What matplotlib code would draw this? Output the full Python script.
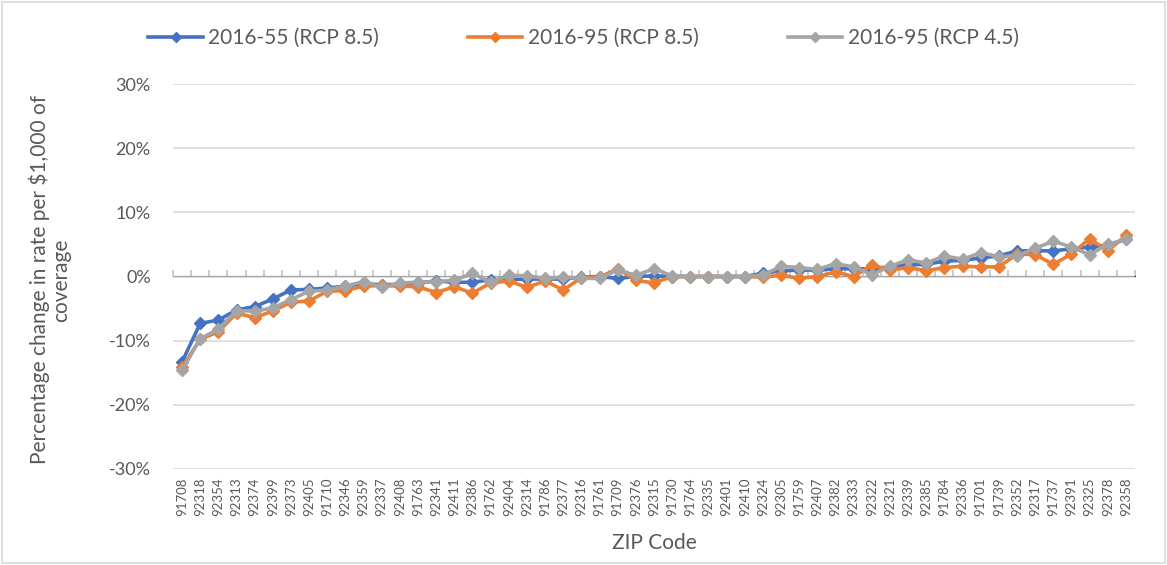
import matplotlib
matplotlib.use("Agg")
import matplotlib.pyplot as plt
from matplotlib.patches import Rectangle
from matplotlib.ticker import FuncFormatter

zip_codes = ["91708", "92318", "92354", "92313", "92374", "92399", "92373", "92405", "91710", "92346",
             "92359", "92337", "92408", "91763", "92341", "92411", "92386", "91762", "92404", "92314",
             "91786", "92377", "92316", "91761", "91709", "92376", "92315", "91730", "91764", "92335",
             "92401", "92410", "92324", "92305", "91759", "92407", "92382", "92333", "92322", "92321",
             "92339", "92385", "91784", "92336", "91701", "91739", "92352", "92317", "91737", "92391",
             "92325", "92378", "92358"]

s_2016_55_rcp85 = [-13.3, -7.3, -6.8, -5.2, -4.7, -3.5, -2.1, -2.0, -1.8, -1.5,
                   -1.1, -1.3, -1.2, -1.0, -0.7, -0.9, -0.9, -0.5, -0.5, -0.4,
                   -0.4, -0.4, -0.1, 0.0, -0.3, 0.0, 0.1, 0.0, 0.0, 0.0,
                   0.0, 0.0, 0.5, 0.9, 1.0, 1.0, 1.2, 1.2, 1.2, 1.5,
                   1.8, 1.9, 2.4, 2.5, 2.9, 3.2, 4.0, 4.0, 4.0, 4.3,
                   4.6, 4.9, 5.8]

s_2016_95_rcp85 = [-14.1, -9.8, -8.6, -5.7, -6.4, -5.4, -4.0, -3.8, -2.3, -2.2,
                   -1.5, -1.4, -1.5, -1.6, -2.5, -1.6, -2.6, -1.0, -0.7, -1.7,
                   -0.7, -2.1, -0.2, -0.1, 1.2, -0.6, -1.0, 0.0, 0.0, 0.0,
                   0.0, 0.0, -0.1, 0.2, -0.3, 0.0, 0.7, 0.0, 1.8, 1.0,
                   1.4, 0.9, 1.4, 1.6, 1.5, 1.5, 3.5, 3.4, 1.9, 3.5,
                   5.9, 4.0, 6.4]

s_2016_95_rcp45 = [-14.6, -9.7, -8.2, -5.3, -5.4, -4.9, -3.6, -2.3, -2.1, -1.5,
                   -0.8, -1.7, -1.0, -0.9, -0.8, -0.6, 0.5, -0.9, 0.2, 0.1,
                   -0.3, -0.1, -0.3, -0.3, 1.0, 0.2, 1.2, 0.1, 0.0, 0.0,
                   0.0, 0.0, 0.2, 1.6, 1.4, 1.1, 2.0, 1.5, 0.3, 1.6,
                   2.6, 2.1, 3.2, 2.7, 3.7, 3.1, 3.2, 4.4, 5.5, 4.6,
                   3.4, 5.0, 5.8]

series_names = ["2016-55 (RCP 8.5)", "2016-95 (RCP 8.5)", "2016-95 (RCP 4.5)"]
colors = ["#4472C4", "#ED7D31", "#A5A5A5"]
y_ticks = [-30, -20, -10, 0, 10, 20, 30]

plt.rcParams['font.family'] = ['Lato', 'DejaVu Sans']
text_color = "#595959"
grid_color = "#D9D9D9"

fig = plt.figure(figsize=(11.67, 5.65), dpi=100)
ax = fig.add_axes([173 / 1167, 1 - 469 / 565, (1135 - 173) / 1167, (469 - 84) / 565])

x = list(range(len(zip_codes)))
handles = []
for i, (vals, name, c) in enumerate(zip([s_2016_55_rcp85, s_2016_95_rcp85, s_2016_95_rcp45], series_names, colors)):
    h, = ax.plot(x, vals, color=c, lw=2.6, marker='D', markersize=6.5,
                 markeredgecolor=c, markerfacecolor=c, label=name, zorder=3 + i)
    handles.append(h)

ax.set_xlim(-0.5, len(zip_codes) - 0.5)
ax.set_ylim(-30, 30)
ax.set_yticks(y_ticks)
ax.yaxis.set_major_formatter(FuncFormatter(lambda v, p: f"{int(v)}%"))
ax.grid(axis='y', color=grid_color, lw=1.1, zorder=0)
ax.set_axisbelow(True)
for sp in ax.spines.values():
    sp.set_visible(False)

ax.set_xticks(x)
ax.set_xticklabels(zip_codes, rotation=90, fontsize=9.5, color=text_color)
ax.tick_params(axis='x', length=0, pad=6)
ax.tick_params(axis='y', length=0, labelsize=13, labelcolor=text_color, pad=16)

# category axis crossing at 0 with boundary ticks
sec = ax.secondary_xaxis(0.5)
sec.set_xticks([i - 0.5 for i in range(len(zip_codes) + 1)])
sec.set_xticklabels([])
sec.tick_params(axis='x', length=4, color="#BFBFBF", width=1.1, labelbottom=False,
                labeltop=False, direction='out')
sec.spines['bottom'].set_color("#BFBFBF")
sec.spines['bottom'].set_linewidth(1.1)

ax.set_xlabel("ZIP Code", fontsize=15, color=text_color)
ax.xaxis.set_label_coords(0.5, -(543 - 469) / 385)
ax.xaxis.label.set_va('center')
ax.set_ylabel("Percentage change in rate per $1,000 of\ncoverage", fontsize=15,
              color=text_color, linespacing=1.05)
ax.yaxis.set_label_coords(-(173 - 50) / 962, (469 - 280) / 385)
ax.yaxis.label.set_va('center')

fig.legend(handles=handles, labels=series_names, loc='center', ncol=3,
           bbox_to_anchor=(0.5, 1 - 38 / 565), frameon=False, fontsize=15,
           handlelength=2.6, handletextpad=0.25, columnspacing=4.3,
           labelcolor=text_color, markerscale=0.85)

fig.add_artist(Rectangle((2 / 1167, 2 / 565), 1 - 4 / 1167, 1 - 4 / 565, transform=fig.transFigure,
                         fill=False, edgecolor=grid_color, lw=1.2))

fig.savefig("out.png", dpi=100, facecolor="white")
